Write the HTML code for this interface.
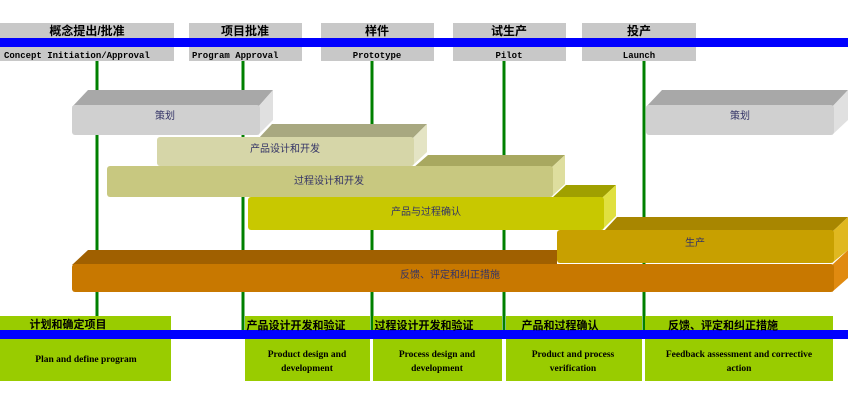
<!DOCTYPE html>
<html><head><meta charset="utf-8"><style>
body{margin:0;width:848px;height:402px;overflow:hidden;background:#fff;font-family:"Liberation Serif","Noto Sans CJK SC",serif}
</style></head><body>
<svg width="848" height="402" xmlns="http://www.w3.org/2000/svg" style="position:absolute;left:0;top:0">
<g fill="#c8c8c8">
<rect x="0" y="23" width="174" height="38"/><rect x="189" y="23" width="113" height="38"/>
<rect x="321" y="23" width="113" height="38"/><rect x="453" y="23" width="113" height="38"/>
<rect x="582" y="23" width="114" height="38"/></g>
<rect x="0" y="38" width="848" height="9" fill="#0000ff"/>
<g font-family="Liberation Sans,Noto Sans CJK SC,sans-serif" font-weight="bold" font-size="12" text-anchor="middle" fill="#000">
<text x="87" y="35">概念提出/批准</text><text x="245" y="35">项目批准</text><text x="377" y="35">样件</text><text x="509" y="35">试生产</text><text x="639" y="35">投产</text></g>
<g font-family="Liberation Mono,monospace" font-weight="bold" font-size="9" fill="#000">
<text x="4" y="58">Concept Initiation/Approval</text><text x="192" y="58">Program Approval</text>
<text x="377" y="58" text-anchor="middle">Prototype</text><text x="509" y="58" text-anchor="middle">Pilot</text><text x="639" y="58" text-anchor="middle">Launch</text></g>
<g stroke="#008000" stroke-width="3">
<line x1="97" y1="61" x2="97" y2="316"/><line x1="243" y1="61" x2="243" y2="330"/>
<line x1="372" y1="61" x2="372" y2="330"/><line x1="504" y1="61" x2="504" y2="330"/><line x1="644" y1="61" x2="644" y2="330"/></g>
<g font-family="Liberation Sans,Noto Sans CJK SC,sans-serif" font-size="10" fill="#333366" text-anchor="middle">
<!-- 策划 left -->
<polygon points="72,107 88,90 273,90 258,107" fill="#a8a8a8"/><polygon points="258,107 273,90 273,120 258,135" fill="#e0e0e0"/>
<rect x="72" y="105" width="188" height="30" rx="3" fill="#d0d0d0"/><text x="165" y="119">策划</text>
<polygon points="646,107 662,90 848,90 832,107" fill="#a8a8a8"/><polygon points="832,107 848,90 848,120 832,135" fill="#e0e0e0"/>
<rect x="646" y="105" width="188" height="30" rx="3" fill="#d0d0d0"/><text x="740" y="119">策划</text>
<!-- 产品设计和开发 -->
<polygon points="258,139 272,124 427,124 412,139" fill="#a8a880"/><polygon points="412,139 427,124 427,152 412,166" fill="#e4e4c4"/>
<rect x="157" y="137" width="257" height="29" rx="3" fill="#d6d6a8"/><text x="285" y="152">产品设计和开发</text>
<polygon points="413,168 428,155 565,155 551,168" fill="#a8a860"/><polygon points="551,168 565,155 565,184 551,197" fill="#dede9e"/>
<rect x="107" y="166" width="446" height="31" rx="3" fill="#c8c880"/><text x="329" y="184">过程设计和开发</text>
<!-- 产品与过程确认 -->
<polygon points="552,198 566,185 616,185 602,198" fill="#a0a000"/><polygon points="602,198 616,185 616,216 602,230" fill="#e0e040"/>
<rect x="248" y="197" width="356" height="33" rx="3" fill="#c8c800"/><text x="426" y="215">产品与过程确认</text>
<!-- 生产 -->
<polygon points="603,232 617,217 848,217 832,232" fill="#a88600"/><polygon points="832,232 848,217 848,250 832,263" fill="#e0b820"/>
<rect x="557" y="230" width="277" height="33" rx="3" fill="#c8a000"/><text x="695" y="246">生产</text>
<!-- 反馈 -->
<polygon points="72,265 88,250 557,250 557,265" fill="#a06000"/><polygon points="832,265 848,250 848,278 832,292" fill="#e08a10"/>
<rect x="72" y="264" width="762" height="28" rx="3" fill="#c87800"/><text x="450" y="278">反馈、评定和纠正措施</text>
</g>
<g fill="#99cc00">
<rect x="0" y="316" width="171" height="65"/><rect x="245" y="316" width="125" height="65"/>
<rect x="373" y="316" width="129" height="65"/><rect x="506" y="316" width="136" height="65"/><rect x="645" y="316" width="188" height="65"/></g>
<rect x="0" y="330" width="848" height="9" fill="#0000ff"/>
<g font-family="Liberation Sans,Noto Sans CJK SC,sans-serif" font-weight="bold" font-size="11" fill="#000" text-anchor="middle">
<text x="68" y="328">计划和确定项目</text><text x="296" y="329">产品设计开发和验证</text><text x="424" y="329">过程设计开发和验证</text>
<text x="560" y="329">产品和过程确认</text><text x="723" y="329">反馈、评定和纠正措施</text></g>
<g font-weight="bold" font-size="9.5" fill="#000" text-anchor="middle">
<text x="86" y="362">Plan and define program</text>
<text x="307" y="357">Product design and</text><text x="307" y="371">development</text>
<text x="437" y="357">Process design and</text><text x="437" y="371">development</text>
<text x="573" y="357">Product and process</text><text x="573" y="371">verification</text>
<text x="739" y="357">Feedback assessment and corrective</text><text x="739" y="371">action</text></g>
</svg>
</body></html>
